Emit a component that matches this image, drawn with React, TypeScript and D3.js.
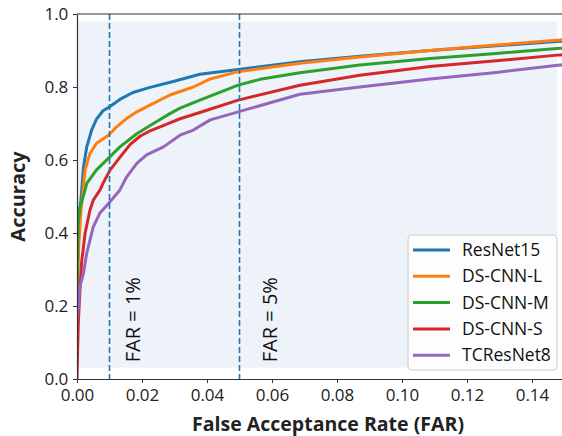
import { useEffect, useRef } from "react";
import * as d3 from "d3";

// series points: [FAR, accuracy]
const resnet15: [number, number][] = [
  [0, 0.22], [0.0003, 0.38], [0.0008, 0.46], [0.0012, 0.49], [0.002, 0.58],
  [0.003, 0.636], [0.0045, 0.682], [0.006, 0.712], [0.008, 0.735], [0.0097, 0.744],
  [0.0132, 0.766], [0.0172, 0.785], [0.0225, 0.799], [0.0296, 0.815], [0.0378, 0.835],
  [0.0496, 0.848], [0.0686, 0.869], [0.087, 0.884], [0.1086, 0.9], [0.129, 0.913],
  [0.1486, 0.925], [0.152, 0.927],
];
const dsCnnL: [number, number][] = [
  [0, 0.2], [0.0005, 0.36], [0.0012, 0.46], [0.0025, 0.573], [0.004, 0.618],
  [0.006, 0.646], [0.0097, 0.668], [0.0122, 0.691], [0.0153, 0.714], [0.0184, 0.732],
  [0.0235, 0.755], [0.0286, 0.778], [0.0358, 0.8], [0.041, 0.822], [0.0496, 0.842],
  [0.0686, 0.865], [0.087, 0.882], [0.1086, 0.9], [0.129, 0.915], [0.1486, 0.929],
  [0.152, 0.931],
];
const dsCnnM: [number, number][] = [
  [0, 0.25], [0.0004, 0.43], [0.0009, 0.47], [0.0025, 0.518], [0.003, 0.536],
  [0.006, 0.573], [0.0097, 0.605], [0.0132, 0.636], [0.0184, 0.672], [0.0235, 0.7],
  [0.0286, 0.727], [0.0317, 0.742], [0.0378, 0.764], [0.0496, 0.805], [0.0563, 0.821],
  [0.0686, 0.839], [0.087, 0.86], [0.1086, 0.878], [0.129, 0.892], [0.1486, 0.906],
  [0.152, 0.908],
];
const dsCnnS: [number, number][] = [
  [0, 0.0], [0.0002, 0.08], [0.0004, 0.153], [0.0009, 0.244], [0.0014, 0.318],
  [0.0025, 0.4], [0.004, 0.463], [0.005, 0.49], [0.0071, 0.518], [0.008, 0.536],
  [0.0102, 0.573], [0.0132, 0.607], [0.0163, 0.642], [0.0194, 0.665], [0.0225, 0.68],
  [0.0286, 0.702], [0.0317, 0.713], [0.0378, 0.73], [0.0496, 0.764], [0.0686, 0.805],
  [0.087, 0.832], [0.1086, 0.856], [0.129, 0.872], [0.1486, 0.888], [0.152, 0.89],
];
const tcResNet8: [number, number][] = [
  [0, 0.16], [0.0004, 0.2], [0.0009, 0.253], [0.002, 0.29], [0.003, 0.345],
  [0.005, 0.417], [0.007, 0.454], [0.0097, 0.481], [0.0132, 0.518], [0.0153, 0.554],
  [0.0184, 0.591], [0.0214, 0.614], [0.0266, 0.636], [0.0317, 0.668], [0.0358, 0.682],
  [0.041, 0.71], [0.0496, 0.732], [0.0686, 0.78], [0.087, 0.8], [0.1086, 0.822],
  [0.129, 0.84], [0.1486, 0.86], [0.152, 0.862],
];

const seriesNames = ["ResNet15", "DS-CNN-L", "DS-CNN-M", "DS-CNN-S", "TCResNet8"];
const seriesData = [resnet15, dsCnnL, dsCnnM, dsCnnS, tcResNet8];
const colors = ["#1f77b4", "#ff7f0e", "#2ca02c", "#d62728", "#9467bd"];

const xTicks = [0, 0.02, 0.04, 0.06, 0.08, 0.1, 0.12, 0.14];
const yTicks = [0, 0.2, 0.4, 0.6, 0.8, 1.0];
const farLines = [0.01, 0.05];
const farLabels = ["FAR = 1%", "FAR = 5%"];
const farLabelX = [0.0194, 0.0615];

const FONT = "'Open Sans', sans-serif";

const App = () => {
  const svgRef = useRef<SVGSVGElement>(null);

  useEffect(() => {
    const width = 562;
    const height = 436;
    const margin = { top: 14, left: 77, bottom: 57 };

    const svg = d3.select(svgRef.current);
    svg.selectAll("*").remove();
    svg.attr("width", width).attr("height", height);

    const x = d3.scaleLinear().domain([0, 0.15]).range([margin.left, 564.5]);
    const y = d3
      .scaleLinear()
      .domain([0, 1])
      .range([height - margin.bottom, margin.top]);

    // shaded background
    svg
      .append("rect")
      .attr("x", x(0))
      .attr("y", y(0.98))
      .attr("width", x(0.1477) - x(0))
      .attr("height", y(0.031) - y(0.98))
      .attr("fill", "#eef2f9");

    // curves
    const clipId = "plot-clip";
    svg
      .append("clipPath")
      .attr("id", clipId)
      .append("rect")
      .attr("x", x(0))
      .attr("y", y(1))
      .attr("width", x(0.15) - x(0))
      .attr("height", y(0) - y(1));

    const line = d3
      .line<[number, number]>()
      .x((d) => x(d[0]))
      .y((d) => y(d[1]));

    const curves = svg.append("g").attr("clip-path", `url(#${clipId})`);
    seriesData.forEach((pts, i) => {
      curves
        .append("path")
        .datum(pts)
        .attr("fill", "none")
        .attr("stroke", colors[i])
        .attr("stroke-width", 3)
        .attr("stroke-linejoin", "round")
        .attr("d", line);
    });

    // FAR reference lines
    farLines.forEach((v, i) => {
      svg
        .append("line")
        .attr("x1", x(v))
        .attr("x2", x(v))
        .attr("y1", y(1))
        .attr("y2", y(0))
        .attr("stroke", "#1f77b4")
        .attr("stroke-width", 1.6)
        .attr("stroke-dasharray", "6,3");
      svg
        .append("text")
        .attr("transform", `translate(${x(farLabelX[i])},${y(0.046)}) rotate(-90)`)
        .attr("font-family", FONT)
        .attr("font-size", 20)
        .attr("fill", "#111")
        .text(farLabels[i]);
    });

    // axes
    const xAxis = svg
      .append("g")
      .attr("transform", `translate(0,${y(0)})`)
      .call(
        d3
          .axisBottom(x)
          .tickValues(xTicks)
          .tickFormat(d3.format(".2f"))
          .tickSize(4)
          .tickSizeOuter(0)
      );
    const yAxis = svg
      .append("g")
      .attr("transform", `translate(${x(0)},0)`)
      .call(
        d3
          .axisLeft(y)
          .tickValues(yTicks)
          .tickFormat(d3.format(".1f"))
          .tickSize(4)
          .tickSizeOuter(0)
      );
    [xAxis, yAxis].forEach((g) => {
      g.select(".domain").attr("stroke", "#333").attr("stroke-width", 1.2);
      g.selectAll(".tick line").attr("stroke", "#333");
      g.selectAll("text")
        .attr("font-family", FONT)
        .attr("font-size", 17)
        .attr("fill", "#222");
    });
    xAxis.selectAll("text").attr("dy", "0.9em");
    yAxis.selectAll("text").attr("dx", "-0.1em");

    // top spine
    svg
      .append("line")
      .attr("x1", x(0))
      .attr("x2", x(0.15))
      .attr("y1", y(1))
      .attr("y2", y(1))
      .attr("stroke", "#333")
      .attr("stroke-width", 1.2);

    // axis labels
    svg
      .append("text")
      .attr("x", 328)
      .attr("y", 431)
      .attr("text-anchor", "middle")
      .attr("font-family", FONT)
      .attr("font-weight", "bold")
      .attr("font-size", 19)
      .attr("textLength", 272)
      .attr("lengthAdjust", "spacingAndGlyphs")
      .attr("fill", "#222")
      .text("False Acceptance Rate (FAR)");
    svg
      .append("text")
      .attr("transform", `translate(25,${(y(0) + y(1)) / 2}) rotate(-90)`)
      .attr("text-anchor", "middle")
      .attr("font-family", FONT)
      .attr("font-weight", "bold")
      .attr("font-size", 20)
      .attr("fill", "#222")
      .text("Accuracy");

    // legend
    const legend = svg.append("g").attr("transform", "translate(408,235)");
    legend
      .append("rect")
      .attr("width", 149)
      .attr("height", 135)
      .attr("rx", 4)
      .attr("fill", "white")
      .attr("fill-opacity", 0.85)
      .attr("stroke", "#ccc");
    seriesNames.forEach((name, i) => {
      const ly = 15 + i * 26.3;
      legend
        .append("line")
        .attr("x1", 5)
        .attr("x2", 42)
        .attr("y1", ly)
        .attr("y2", ly)
        .attr("stroke", colors[i])
        .attr("stroke-width", 3);
      legend
        .append("text")
        .attr("x", 54)
        .attr("y", ly)
        .attr("dy", "0.35em")
        .attr("font-family", FONT)
        .attr("font-size", 17.5)
        .attr("fill", "#111")
        .text(name);
    });
  }, []);

  return (
    <svg
      ref={svgRef}
      style={{ position: "absolute", left: 0, top: 0, background: "white" }}
    ></svg>
  );
};

export default App;
